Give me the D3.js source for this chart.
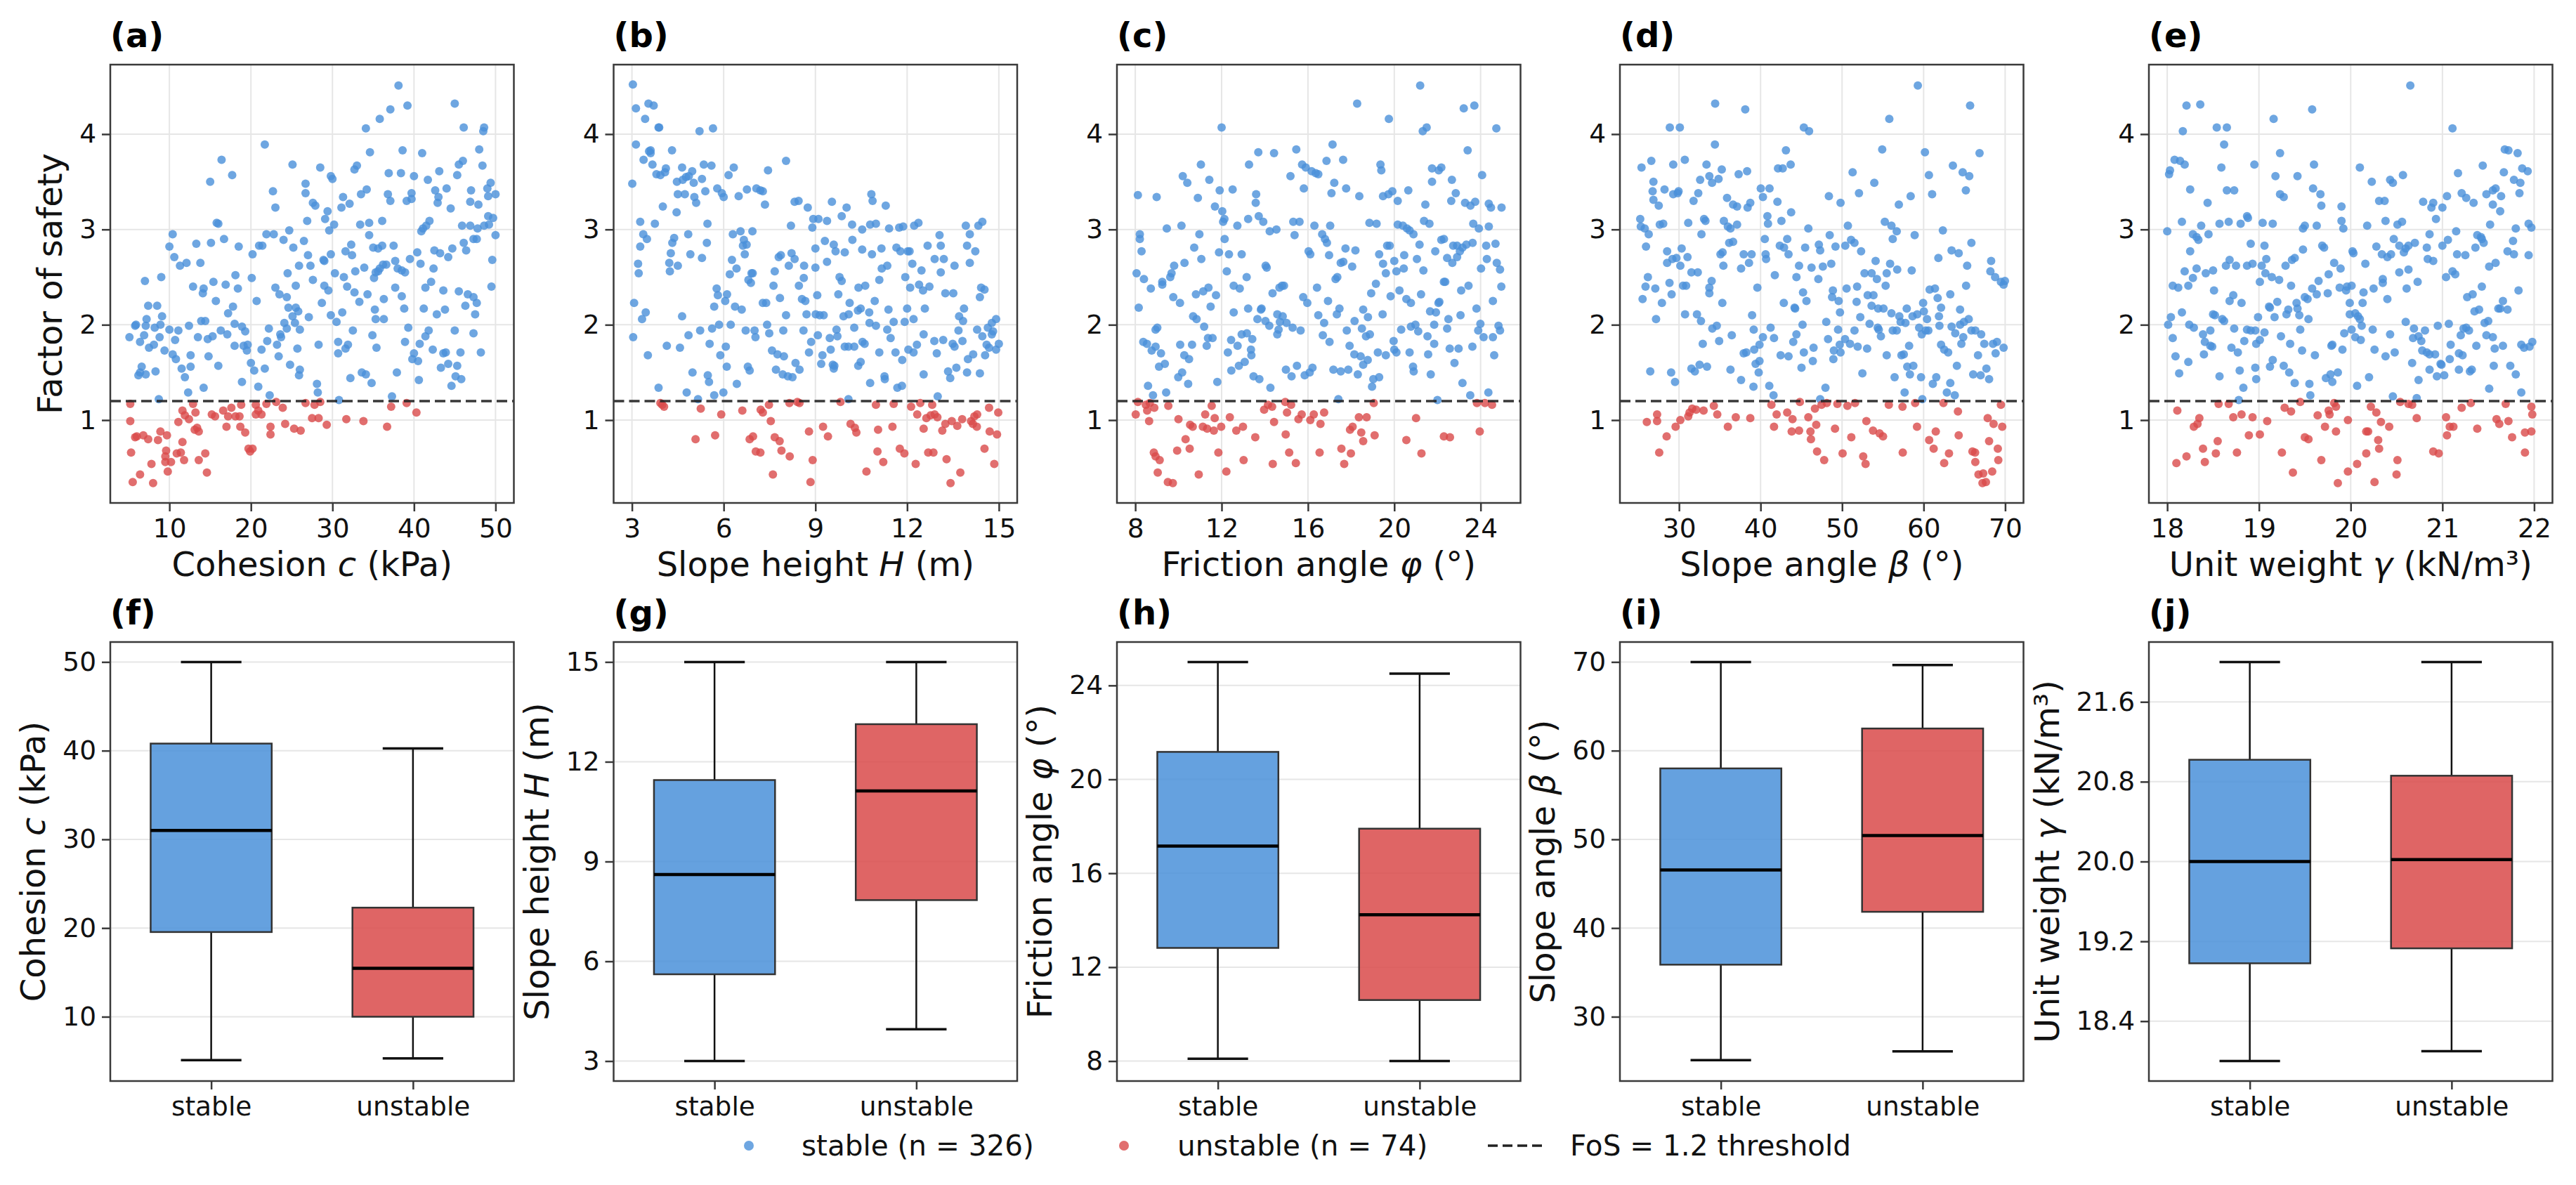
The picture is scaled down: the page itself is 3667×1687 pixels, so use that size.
<!DOCTYPE html>
<html><head><meta charset="utf-8">
<script src="https://cdn.jsdelivr.net/npm/d3@7"></script>
<style>body{margin:0;background:#fff} svg{display:block}</style>
</head><body><svg id="chart" width="3667" height="1687"></svg>
<script>
// ---------------- DATA ----------------
const fosTicks = [1, 2, 3, 4];
const threshold = 1.2;
const nStable = 326, nUnstable = 74;
const categories = ["stable", "unstable"];

const cohesionRange = [5, 50], heightRange = [3, 15], frictionRange = [8, 25], slopeRange = [25, 70], weightRange = [18, 22];
const cohesionTicks = [10, 20, 30, 40, 50], heightTicks = [3, 6, 9, 12, 15], frictionTicks = [8, 12, 16, 20, 24], slopeTicks = [30, 40, 50, 60, 70], weightTicks = [18, 19, 20, 21, 22];
const cohesionBoxTicks = [10, 20, 30, 40, 50], heightBoxTicks = [3, 6, 9, 12, 15], frictionBoxTicks = [8, 12, 16, 20, 24], slopeBoxTicks = [30, 40, 50, 60, 70], weightBoxTicks = [18.4, 19.2, 20.0, 20.8, 21.6];

// box stats: [lower whisker, Q1, median, Q3, upper whisker]
const cohesionBoxStable = [5.1, 19.55, 31.0, 40.8, 50.0], cohesionBoxUnstable = [5.3, 10.0, 15.47, 22.3, 40.25];
const heightBoxStable = [3.0, 5.61, 8.61, 11.45, 15.0], heightBoxUnstable = [3.96, 7.84, 11.12, 13.13, 15.0];
const frictionBoxStable = [8.1, 12.82, 17.16, 21.17, 25.0], frictionBoxUnstable = [8.0, 10.6, 14.23, 17.9, 24.5];
const slopeBoxStable = [25.1, 35.87, 46.55, 58.0, 70.0], slopeBoxUnstable = [26.1, 41.83, 50.43, 62.5, 69.66];
const weightBoxStable = [18.0, 18.98, 20.0, 21.02, 22.0], weightBoxUnstable = [18.1, 19.13, 20.02, 20.86, 22.0];

// scatter points: [variable value, factor of safety]
const cohesionStable = [[38.1,4.51],[45.0,4.32],[39.2,4.30],[37.1,4.26],[35.8,4.16],[34.1,4.06],[46.1,4.07],[48.6,4.07],[48.5,4.03],[21.7,3.89],[34.6,3.81],[38.6,3.83],[41.0,3.80],[48.0,3.84],[16.4,3.73],[25.1,3.68],[28.5,3.65],[32.7,3.63],[33.0,3.67],[46.0,3.72],[45.5,3.68],[48.4,3.67],[17.7,3.57],[36.9,3.59],[38.4,3.59],[40.0,3.56],[43.1,3.61],[45.3,3.57],[29.8,3.56],[30.0,3.53],[41.7,3.52],[15.0,3.50],[26.7,3.48],[26.7,3.38],[22.7,3.40],[34.2,3.42],[33.5,3.37],[36.8,3.37],[37.1,3.30],[39.7,3.38],[39.7,3.32],[39.1,3.30],[42.6,3.41],[43.0,3.34],[42.9,3.28],[44.0,3.43],[44.5,3.22],[47.0,3.41],[46.9,3.29],[47.9,3.26],[49.0,3.43],[49.4,3.49],[49.1,3.35],[50.0,3.37],[31.3,3.34],[32.1,3.27],[31.1,3.23],[23.0,3.23],[27.6,3.28],[27.9,3.25],[29.4,3.19],[29.1,3.11],[26.9,3.09],[30.2,3.05],[29.6,2.99],[33.4,3.05],[34.5,3.07],[36.1,3.09],[34.5,2.94],[41.9,3.09],[41.5,3.04],[41.1,3.01],[40.9,2.98],[45.9,3.04],[46.9,3.04],[47.8,3.01],[48.6,3.04],[49.1,3.14],[49.7,3.12],[49.2,3.05],[50.0,2.94],[47.3,2.90],[47.7,2.90],[46.1,2.86],[46.4,2.78],[15.8,3.07],[16.0,3.06],[10.4,2.95],[10.0,2.82],[13.3,2.85],[15.1,2.86],[16.7,2.90],[18.5,2.82],[20.2,2.74],[21.0,2.83],[21.4,2.83],[21.9,2.95],[22.8,2.95],[24.0,2.89],[24.7,2.99],[25.2,2.81],[26.5,2.88],[27.0,2.73],[10.6,2.71],[11.3,2.62],[12.1,2.65],[13.8,2.65],[25.9,2.62],[27.3,2.62],[28.9,2.68],[29.0,2.67],[29.8,2.74],[31.6,2.77],[32.3,2.84],[32.4,2.73],[35.0,2.81],[35.6,2.80],[36.1,2.83],[37.5,2.83],[39.5,2.69],[40.4,2.76],[42.5,2.78],[43.2,2.75],[44.2,2.71],[44.7,2.80],[49.6,2.68],[40.8,2.64],[42.4,2.59],[37.7,2.67],[38.0,2.59],[38.5,2.57],[38.9,2.55],[36.2,2.63],[36.6,2.63],[35.8,2.59],[35.6,2.56],[33.9,2.60],[32.8,2.56],[35.1,2.49],[35.3,2.55],[30.3,2.54],[31.4,2.50],[24.5,2.54],[27.6,2.47],[20.1,2.49],[18.1,2.52],[7.0,2.46],[9.0,2.50],[12.9,2.40],[14.2,2.38],[14.1,2.33],[15.4,2.45],[16.9,2.42],[18.4,2.38],[23.0,2.39],[25.5,2.41],[29.0,2.41],[29.5,2.36],[31.8,2.40],[32.7,2.34],[33.3,2.24],[34.3,2.32],[37.7,2.39],[38.5,2.30],[42.1,2.45],[41.4,2.39],[43.6,2.36],[45.5,2.35],[46.6,2.32],[47.3,2.29],[47.7,2.23],[49.5,2.40],[46.3,2.20],[47.5,2.11],[43.8,2.16],[42.8,2.11],[41.2,2.17],[38.8,2.17],[36.3,2.27],[35.2,2.16],[35.3,2.06],[36.3,2.06],[28.7,2.23],[31.2,2.13],[29.8,2.10],[30.5,2.03],[23.5,2.32],[24.4,2.29],[24.6,2.18],[25.5,2.18],[25.8,2.14],[25.1,2.09],[27.1,2.08],[20.7,2.25],[17.8,2.19],[17.2,2.12],[15.7,2.25],[7.4,2.20],[8.5,2.20],[7.2,2.06],[9.1,2.09],[5.8,1.99],[5.9,2.00],[7.1,1.99],[8.2,1.97],[8.9,2.00],[5.1,1.87],[6.9,1.89],[6.4,1.82],[8.8,1.87],[10.0,1.95],[11.1,1.94],[10.7,1.84],[7.5,1.76],[8.1,1.79],[12.4,1.99],[13.9,2.04],[14.4,2.04],[13.5,1.87],[14.7,1.85],[15.3,1.88],[16.3,1.94],[17.1,1.90],[18.0,2.01],[18.9,1.98],[19.3,1.93],[18.0,1.78],[19.1,1.78],[19.6,1.79],[19.5,1.73],[22.2,1.96],[23.6,1.90],[23.7,1.87],[24.1,2.02],[24.4,1.96],[22.0,1.83],[23.2,1.79],[25.4,2.02],[26.0,1.95],[21.3,1.74],[23.4,1.67],[25.7,1.75],[28.3,1.79],[30.7,1.82],[30.7,1.70],[31.9,1.79],[31.6,1.75],[32.5,1.94],[34.9,1.89],[35.4,1.76],[38.9,1.82],[39.3,1.97],[40.7,1.80],[41.4,1.88],[41.8,1.94],[40.0,1.70],[39.8,1.64],[40.5,1.62],[42.3,1.74],[43.6,1.70],[43.9,1.71],[43.3,1.55],[44.2,1.59],[45.0,1.94],[45.7,1.71],[45.3,1.57],[47.3,1.91],[48.2,1.71],[45.1,1.46],[45.8,1.43],[44.6,1.36],[40.6,1.42],[37.9,1.50],[34.8,1.39],[33.6,1.50],[34.1,1.48],[32.2,1.44],[30.8,1.21],[37.3,1.25],[28.1,1.38],[28.2,1.29],[26.0,1.53],[25.9,1.47],[24.8,1.58],[21.7,1.54],[20.4,1.52],[20.0,1.60],[20.9,1.35],[22.3,1.26],[18.9,1.40],[16.0,1.57],[14.8,1.67],[14.2,1.34],[12.6,1.68],[12.6,1.56],[12.3,1.29],[11.9,1.45],[11.5,1.54],[10.8,1.64],[10.4,1.69],[9.4,1.73],[6.6,1.56],[6.2,1.47],[7.1,1.48],[6.4,1.50],[8.3,1.51],[8.7,1.22]];
const cohesionUnstable = [[5.2,1.17],[5.2,0.99],[6.0,0.83],[6.8,0.84],[5.8,0.82],[7.4,0.80],[8.6,0.79],[8.9,0.88],[9.7,0.84],[5.3,0.66],[6.4,0.43],[5.5,0.35],[8.0,0.34],[7.8,0.54],[9.6,0.68],[9.5,0.62],[9.5,0.56],[10.2,0.56],[9.8,0.46],[11.1,0.98],[11.6,1.10],[11.9,1.05],[12.4,1.01],[13.2,1.08],[12.9,1.17],[11.6,0.77],[10.9,0.65],[11.4,0.66],[11.8,0.58],[13.1,0.90],[13.4,0.92],[13.6,0.88],[13.6,0.58],[14.4,0.65],[14.6,0.45],[15.2,1.06],[15.6,1.04],[16.6,1.10],[17.2,1.04],[17.6,1.13],[18.1,1.04],[18.6,1.04],[18.8,1.16],[17.0,0.93],[18.7,0.93],[19.3,0.87],[19.7,0.70],[20.2,0.70],[19.9,0.67],[20.6,1.16],[20.9,1.10],[20.6,1.06],[21.3,1.06],[21.9,1.17],[22.4,0.93],[22.4,0.85],[23.1,1.19],[23.9,1.13],[24.2,0.96],[25.3,0.91],[26.1,0.89],[26.7,1.18],[27.8,1.16],[28.5,1.19],[27.5,1.02],[28.3,1.02],[29.3,0.95],[31.7,1.01],[33.8,0.99],[36.7,0.93],[37.2,1.14],[39.1,1.18],[40.3,1.08]];

const heightStable = [[3.03,4.52],[3.13,4.27],[3.54,4.32],[3.71,4.30],[3.43,4.16],[3.87,4.07],[3.89,4.07],[5.21,4.03],[5.65,4.06],[3.13,3.89],[3.61,3.83],[3.61,3.80],[3.56,3.82],[4.31,3.83],[3.38,3.73],[3.67,3.68],[4.11,3.64],[4.08,3.60],[3.80,3.58],[3.93,3.57],[4.64,3.65],[4.97,3.61],[4.86,3.56],[5.35,3.68],[5.60,3.67],[8.04,3.72],[7.45,3.62],[6.33,3.65],[6.16,3.57],[3.01,3.48],[4.47,3.50],[4.66,3.52],[4.77,3.55],[5.02,3.49],[5.29,3.53],[4.50,3.37],[4.73,3.37],[5.04,3.34],[5.10,3.28],[5.40,3.40],[5.79,3.43],[5.94,3.38],[6.00,3.34],[6.49,3.35],[6.76,3.42],[7.07,3.43],[7.20,3.41],[7.28,3.40],[7.35,3.26],[4.01,3.24],[4.46,3.18],[8.32,3.29],[8.45,3.30],[8.75,3.23],[9.54,3.29],[10.02,3.23],[9.86,3.14],[10.83,3.37],[10.87,3.30],[11.3,3.25],[3.27,3.08],[3.75,3.06],[5.47,3.06],[8.20,3.04],[8.93,3.11],[9.10,3.11],[9.38,3.09],[8.90,3.02],[10.2,3.05],[10.53,3.00],[10.79,3.05],[10.98,3.06],[11.41,3.01],[11.74,3.02],[11.87,3.03],[12.23,3.04],[12.37,3.07],[13.06,2.94],[13.92,3.04],[14.05,2.95],[14.33,3.04],[14.46,3.08],[3.37,2.95],[3.49,2.90],[3.27,2.82],[4.38,2.91],[4.32,2.86],[4.84,2.95],[5.45,2.86],[4.27,2.75],[4.22,2.65],[4.24,2.56],[4.91,2.74],[4.50,2.62],[5.29,2.70],[3.20,2.64],[3.22,2.54],[6.30,2.95],[6.55,2.98],[6.66,2.89],[6.63,2.83],[6.75,2.84],[6.69,2.74],[6.94,2.98],[6.27,2.68],[6.42,2.59],[6.20,2.53],[6.91,2.54],[6.95,2.54],[6.81,2.47],[6.89,2.44],[7.67,2.56],[7.80,2.71],[7.87,2.73],[8.22,2.75],[8.32,2.69],[8.13,2.62],[8.63,2.62],[8.62,2.49],[8.46,2.41],[7.63,2.41],[7.84,2.28],[7.28,2.23],[7.39,2.23],[8.56,2.27],[8.67,2.25],[9.0,2.80],[9.0,2.60],[9.31,2.88],[9.38,2.66],[9.60,2.84],[9.66,2.77],[9.96,2.76],[10.21,2.89],[10.53,2.79],[10.85,2.74],[11.16,2.80],[11.17,2.59],[11.35,2.62],[11.09,2.47],[11.65,2.81],[11.78,2.77],[12.02,2.77],[12.08,2.77],[12.17,2.64],[12.67,2.83],[12.47,2.57],[11.94,2.50],[12.10,2.39],[12.39,2.42],[12.52,2.36],[12.73,2.40],[13.1,2.83],[13.2,2.69],[12.9,2.69],[13.1,2.55],[13.55,2.62],[13.25,2.33],[13.51,2.33],[13.96,2.83],[14.23,2.77],[14.05,2.65],[14.42,2.39],[14.53,2.37],[14.38,2.29],[9.79,2.50],[9.86,2.46],[9.75,2.32],[10.41,2.39],[10.63,2.41],[10.12,2.23],[10.39,2.15],[10.48,2.17],[10.76,2.13],[10.94,2.25],[9.06,2.31],[9.01,2.11],[9.14,2.10],[9.27,2.10],[8.71,2.11],[8.61,1.94],[8.04,2.10],[7.95,1.94],[7.42,2.00],[7.49,1.91],[7.01,1.94],[7.04,1.87],[6.72,1.94],[6.37,2.19],[6.59,2.16],[6.05,2.25],[6.11,2.32],[5.77,2.38],[5.81,2.31],[5.69,2.19],[6.23,2.00],[5.85,2.00],[5.62,1.96],[5.23,1.94],[4.85,1.89],[4.64,2.09],[3.07,2.23],[3.45,2.13],[3.33,2.06],[3.04,1.87],[3.52,1.68],[4.14,1.78],[4.57,1.76],[5.54,1.80],[6.07,1.77],[5.89,1.68],[6.10,1.56],[4.98,1.50],[5.48,1.47],[5.52,1.40],[3.87,1.34],[4.79,1.29],[5.16,1.22],[5.69,1.26],[5.99,1.29],[6.43,1.38],[6.79,1.56],[6.85,1.52],[7.58,1.73],[7.76,1.69],[7.97,1.67],[7.71,1.53],[7.93,1.48],[8.10,1.46],[8.25,1.45],[8.35,1.60],[8.48,1.53],[8.79,1.71],[8.86,1.82],[9.08,1.89],[9.19,1.59],[9.23,1.68],[9.47,1.86],[9.50,1.74],[9.57,1.58],[9.60,1.54],[9.62,1.57],[9.69,1.95],[9.72,1.88],[9.92,2.09],[10.09,2.11],[9.96,1.77],[10.08,1.77],[10.27,1.77],[10.27,1.97],[10.40,1.57],[10.48,1.61],[10.54,1.82],[10.61,1.80],[10.77,2.02],[10.98,1.99],[10.79,1.39],[11.09,1.71],[11.26,1.46],[11.27,1.43],[11.35,1.95],[11.46,1.86],[11.56,2.03],[11.39,2.16],[11.62,1.71],[11.84,1.63],[11.68,1.34],[11.83,1.36],[11.92,2.03],[12.0,2.17],[12.21,2.06],[12.04,1.74],[12.21,1.71],[12.32,1.79],[12.54,1.90],[12.58,2.17],[12.54,1.48],[12.89,1.83],[12.97,1.70],[13.18,1.84],[13.0,1.25],[13.34,1.51],[13.41,1.44],[13.49,1.80],[13.55,1.77],[13.68,1.94],[13.61,1.55],[13.70,2.09],[13.83,2.04],[13.86,2.17],[13.81,1.83],[13.96,1.50],[13.99,1.64],[14.16,1.69],[14.29,1.95],[14.46,1.88],[14.38,1.49],[14.55,1.68],[14.6,1.79],[14.64,1.97],[14.77,2.02],[14.81,1.93],[14.91,2.06],[14.68,1.76],[14.91,1.74],[15.0,1.80],[14.77,1.90],[10.08,1.22]];
const heightUnstable = [[3.99,1.16],[4.05,1.14],[3.93,1.18],[5.25,1.12],[5.08,0.80],[5.72,0.84],[5.92,1.06],[6.61,1.10],[7.21,1.11],[7.28,1.08],[7.48,1.16],[7.54,0.99],[6.85,0.80],[6.96,0.83],[7.05,0.67],[7.20,0.66],[7.67,0.82],[7.83,0.78],[7.89,0.68],[8.16,0.62],[7.61,0.43],[8.15,1.18],[8.41,1.19],[8.48,1.18],[8.79,0.88],[8.91,0.58],[8.84,0.35],[9.25,0.93],[9.41,0.83],[9.82,1.19],[10.15,0.96],[10.29,0.92],[10.34,0.87],[10.67,0.46],[10.98,1.16],[11.05,0.90],[11.03,0.67],[11.22,0.56],[11.52,0.93],[11.56,1.17],[11.76,0.70],[11.91,0.65],[12.13,1.14],[12.33,1.06],[12.43,1.18],[12.28,0.54],[12.54,0.91],[12.63,1.02],[12.77,1.05],[12.82,1.16],[12.99,1.03],[12.9,1.06],[12.69,0.66],[12.86,0.66],[13.15,0.89],[13.25,0.96],[13.29,0.59],[13.42,0.34],[13.46,0.99],[13.64,0.94],[13.80,1.01],[13.74,0.45],[14.09,0.99],[14.2,1.04],[14.29,1.06],[14.28,0.93],[14.15,0.96],[14.53,0.70],[14.68,1.13],[14.70,0.88],[14.94,0.85],[14.98,1.08],[14.85,0.54]];

const frictionStable = [[21.2,4.51],[18.28,4.32],[23.22,4.27],[23.71,4.30],[19.75,4.16],[21.32,4.03],[21.50,4.07],[12.0,4.07],[24.73,4.06],[17.14,3.89],[13.7,3.81],[14.43,3.80],[15.46,3.84],[23.40,3.83],[11.04,3.68],[13.27,3.68],[15.73,3.68],[15.9,3.65],[16.17,3.61],[16.36,3.59],[16.48,3.58],[16.86,3.72],[17.63,3.73],[19.36,3.68],[19.4,3.62],[21.75,3.64],[22.18,3.65],[22.06,3.62],[24.07,3.57],[10.2,3.56],[10.41,3.49],[11.43,3.52],[15.19,3.56],[17.22,3.49],[15.81,3.43],[17.77,3.43],[17.09,3.38],[8.12,3.36],[8.99,3.34],[10.9,3.33],[11.91,3.41],[12.51,3.42],[13.6,3.37],[13.58,3.28],[18.38,3.35],[19.48,3.35],[19.73,3.37],[19.91,3.40],[20.16,3.30],[20.65,3.41],[21.44,3.26],[21.75,3.50],[22.67,3.52],[22.85,3.38],[22.64,3.30],[23.28,3.28],[23.53,3.25],[23.75,3.29],[24.38,3.27],[24.48,3.23],[24.97,3.23],[11.69,3.24],[12.03,3.19],[12.13,3.11],[12.07,3.08],[13.72,3.14],[13.93,3.08],[13.23,3.11],[12.73,3.04],[9.46,3.01],[10.14,3.04],[8.21,2.95],[8.21,2.90],[8.29,2.77],[10.97,2.95],[12.14,2.90],[10.73,2.81],[11.06,2.69],[11.88,2.76],[12.34,2.74],[12.93,2.74],[14.23,2.98],[14.54,3.00],[15.32,3.08],[15.61,3.08],[15.38,2.94],[16.30,3.04],[16.66,2.95],[16.79,2.90],[16.88,2.86],[17.03,3.04],[16.03,2.77],[16.11,2.74],[16.98,2.73],[17.74,2.80],[18.2,2.78],[17.52,2.65],[17.64,2.66],[18.05,2.61],[18.85,3.07],[19.18,3.06],[19.30,2.74],[19.48,2.64],[19.61,2.54],[19.67,2.83],[19.79,2.83],[20.0,2.67],[20.1,2.56],[20.44,2.59],[20.46,2.73],[20.16,3.05],[20.4,3.04],[20.59,3.01],[20.71,2.99],[20.89,2.95],[21.17,2.84],[21.05,2.69],[21.35,2.57],[21.38,3.09],[21.63,3.06],[21.9,2.77],[22.18,2.89],[22.3,2.90],[22.45,2.70],[22.69,2.65],[22.73,2.83],[22.91,2.83],[23.16,2.81],[23.34,2.84],[23.63,2.86],[23.04,2.77],[22.91,2.71],[23.66,3.06],[23.92,3.01],[24.38,3.03],[24.26,2.83],[24.69,2.85],[24.29,2.69],[24.75,2.65],[24.9,2.58],[24.02,2.59],[24.96,2.40],[24.57,2.25],[23.81,2.17],[23.44,2.41],[23.1,2.36],[22.3,2.45],[22.36,2.45],[22.09,2.24],[22.05,2.23],[21.66,2.14],[21.93,2.13],[21.24,2.32],[20.56,2.27],[20.77,2.23],[20.24,2.36],[19.83,2.30],[19.46,2.11],[18.93,2.33],[19.15,2.43],[18.56,2.16],[18.78,2.08],[18.16,2.04],[18.5,1.96],[18.69,1.88],[18.87,1.90],[17.80,1.94],[17.93,1.78],[17.46,2.17],[17.34,2.11],[17.28,2.48],[17.36,2.50],[16.93,2.25],[16.42,2.39],[16.48,2.10],[16.75,2.02],[16.69,1.89],[17.0,1.82],[15.78,2.29],[15.97,2.23],[15.66,1.94],[15.29,1.97],[15.01,2.02],[14.83,2.09],[14.58,2.11],[14.70,2.03],[14.64,1.95],[14.58,1.90],[14.80,2.41],[14.89,2.41],[14.68,2.39],[14.36,2.33],[14.04,2.62],[14.09,2.60],[13.85,2.17],[13.82,2.16],[13.66,2.06],[14.03,2.04],[14.21,1.99],[13.23,2.17],[13.16,2.50],[12.84,2.38],[12.56,2.41],[12.56,2.13],[12.24,2.56],[11.74,2.31],[11.49,2.19],[11.39,2.39],[11.15,2.35],[10.81,2.32],[10.68,2.09],[10.84,2.06],[11.19,1.98],[11.58,1.86],[11.37,1.86],[11.31,1.78],[10.28,2.65],[9.80,2.62],[9.68,2.54],[9.62,2.50],[9.25,2.45],[9.25,2.42],[9.76,2.29],[10.07,2.23],[8.06,2.54],[8.40,2.48],[8.72,2.38],[8.16,2.18],[8.94,1.95],[9.02,1.97],[8.37,1.82],[8.54,1.80],[8.76,1.73],[8.94,1.77],[9.19,1.70],[9.10,1.56],[9.37,1.59],[10.08,1.79],[10.27,1.68],[10.49,1.64],[10.63,1.79],[9.99,1.45],[10.17,1.50],[10.45,1.38],[8.59,1.36],[8.82,1.26],[9.43,1.29],[11.80,1.40],[12.29,1.71],[12.44,1.84],[12.74,1.78],[12.93,1.90],[13.17,1.91],[13.42,1.85],[13.36,1.74],[13.38,1.68],[13.07,1.61],[12.8,1.57],[12.45,1.52],[13.48,1.46],[13.75,1.43],[14.26,1.34],[14.98,1.53],[15.24,1.46],[15.49,1.57],[15.85,1.47],[16.08,1.50],[16.21,1.55],[17.18,1.53],[17.52,1.51],[17.87,1.53],[18.31,1.48],[18.15,1.69],[18.44,1.67],[18.56,1.58],[18.77,1.63],[19.24,1.71],[19.61,1.68],[19.03,1.43],[19.30,1.45],[18.97,1.35],[19.97,1.83],[20.0,1.74],[20.1,1.71],[20.32,1.95],[20.71,1.71],[20.87,1.56],[20.90,1.51],[20.77,1.98],[20.98,2.00],[21.11,1.93],[21.54,1.88],[21.85,1.80],[21.57,1.69],[21.69,1.48],[21.85,2.00],[22.0,1.21],[22.45,1.96],[22.51,2.06],[22.57,1.75],[22.98,1.75],[22.79,1.60],[23.07,2.10],[23.16,1.39],[23.52,1.26],[23.62,1.77],[23.89,1.94],[23.99,2.01],[24.14,1.87],[24.57,1.87],[24.63,1.68],[24.83,1.99],[24.9,1.94],[24.36,1.29],[17.41,1.22]];
const frictionUnstable = [[8.12,1.19],[8.49,1.16],[8.67,1.18],[8.88,1.13],[8.55,1.10],[8.02,1.06],[8.64,0.99],[9.53,1.15],[10.0,1.01],[8.86,0.66],[8.94,0.62],[9.13,0.58],[9.04,0.45],[9.51,0.35],[9.74,0.34],[9.94,0.68],[10.33,0.80],[10.52,0.70],[10.54,0.95],[10.66,0.93],[10.94,0.43],[11.13,0.93],[11.33,0.91],[11.64,0.89],[11.98,0.93],[11.24,1.06],[11.54,1.15],[11.68,1.02],[11.85,0.66],[12.22,0.46],[12.38,1.03],[12.68,0.89],[12.99,0.93],[13.02,0.58],[13.56,0.82],[13.97,1.11],[14.15,1.16],[14.34,1.14],[14.43,0.98],[14.37,0.54],[14.95,1.19],[15.22,1.16],[15.03,1.08],[14.97,0.85],[15.13,0.66],[15.44,0.55],[15.56,1.01],[15.71,1.06],[16.11,1.00],[16.27,1.06],[16.58,0.96],[16.75,1.08],[16.54,0.66],[17.55,0.70],[17.68,0.54],[17.99,0.65],[17.95,0.90],[18.07,0.93],[18.36,1.03],[18.72,1.03],[18.47,0.87],[18.56,0.78],[19.05,1.18],[19.09,0.84],[20.56,0.79],[21.01,1.02],[21.26,0.65],[22.3,0.83],[22.58,0.82],[23.83,1.18],[24.20,1.18],[24.53,1.16],[23.96,0.88]];

const slopeStable = [[59.29,4.51],[34.43,4.32],[38.12,4.26],[55.79,4.16],[28.87,4.07],[30.1,4.07],[45.31,4.07],[45.95,4.03],[65.70,4.30],[34.40,3.89],[54.92,3.84],[60.16,3.81],[66.86,3.80],[43.11,3.83],[25.40,3.65],[26.60,3.72],[29.29,3.68],[30.71,3.73],[33.37,3.68],[35.24,3.63],[33.72,3.56],[34.05,3.49],[34.85,3.53],[32.59,3.52],[26.86,3.50],[26.76,3.40],[26.86,3.31],[27.51,3.25],[28.22,3.42],[29.29,3.37],[29.84,3.38],[29.94,3.40],[32.36,3.38],[31.78,3.30],[37.31,3.58],[38.35,3.61],[35.89,3.33],[36.63,3.26],[37.12,3.24],[38.41,3.23],[38.74,3.28],[40.03,3.43],[41.10,3.43],[40.29,3.34],[42.14,3.64],[42.72,3.64],[43.69,3.68],[42.07,3.29],[43.75,3.18],[40.84,3.14],[40.91,3.06],[42.56,3.09],[51.29,3.60],[53.95,3.49],[52.07,3.38],[48.38,3.35],[49.81,3.28],[56.96,3.26],[58.41,3.35],[60.65,3.57],[61.04,3.37],[63.59,3.67],[64.79,3.60],[65.60,3.56],[65.18,3.41],[25.24,3.11],[25.31,3.03],[25.79,3.01],[26.28,2.95],[25.95,2.82],[27.64,3.05],[28.06,3.06],[31.13,3.07],[33.07,3.11],[33.24,3.09],[32.75,2.95],[35.50,3.09],[35.99,3.03],[36.31,3.01],[37.12,3.05],[36.15,2.86],[36.63,2.87],[35.34,2.76],[35.08,2.74],[28.54,2.77],[30.32,2.80],[31.04,2.71],[28.54,2.65],[29.19,2.69],[29.68,2.70],[30.16,2.62],[26.18,2.50],[25.89,2.40],[27.09,2.38],[25.53,2.27],[27.90,2.23],[27.18,2.06],[28.83,2.44],[29.09,2.32],[30.49,2.41],[30.87,2.41],[31.52,2.55],[32.30,2.55],[30.74,2.11],[32.20,2.11],[32.69,2.04],[33.72,2.39],[34.0,2.46],[33.72,2.33],[35.31,2.23],[34.08,1.96],[34.63,1.99],[32.91,1.80],[34.92,1.83],[35.44,2.62],[37.61,2.59],[37.93,2.74],[38.90,2.74],[38.58,2.65],[36.47,1.89],[38.96,2.10],[39.16,1.95],[39.61,2.39],[40.52,2.90],[40.62,2.74],[40.68,2.69],[41.75,2.52],[41.23,1.97],[40.29,1.87],[39.87,1.79],[39.22,1.74],[41.65,1.86],[42.36,2.83],[42.88,2.81],[43.27,2.90],[43.43,2.74],[42.85,2.23],[44.17,2.18],[44.24,2.17],[44.40,2.50],[44.72,2.62],[45.21,2.34],[45.63,2.25],[45.47,2.81],[45.86,3.01],[46.25,2.60],[47.09,2.48],[47.15,2.84],[47.31,2.78],[47.64,2.61],[48.67,2.64],[48.48,2.94],[49.19,2.82],[50.39,2.83],[51.1,2.89],[51.52,2.86],[52.33,2.77],[50.71,3.04],[48.87,2.36],[48.77,2.29],[49.58,2.25],[50.55,2.38],[51.84,2.40],[49.74,2.13],[51.78,2.24],[52.23,2.08],[51.52,1.94],[52.75,2.54],[53.62,2.54],[54.11,2.67],[54.27,2.48],[53.14,2.31],[53.85,2.31],[53.62,2.20],[54.43,2.17],[55.08,2.17],[53.37,2.01],[54.37,1.97],[54.50,1.95],[54.76,1.88],[55.34,2.41],[55.47,2.54],[55.89,2.64],[56.76,2.58],[55.24,3.08],[56.05,3.04],[56.70,2.98],[56.21,2.90],[58.90,2.94],[58.54,2.57],[56.05,2.12],[57.02,2.09],[57.93,2.17],[56.21,1.94],[56.70,1.94],[57.18,2.03],[57.77,2.02],[58.64,2.09],[59.22,2.11],[59.94,2.23],[60.03,2.14],[60.42,2.06],[59.45,1.97],[59.77,1.90],[60.26,1.94],[60.58,1.94],[60.74,2.37],[61.39,2.38],[61.72,2.28],[62.14,2.18],[61.88,2.09],[61.94,1.99],[61.81,2.70],[62.36,2.99],[63.27,2.32],[63.43,2.78],[64.30,2.75],[65.34,2.62],[65.86,2.86],[65.21,2.41],[64.47,2.16],[63.43,1.98],[63.88,1.91],[64.47,2.00],[64.95,2.03],[65.53,2.06],[65.86,1.94],[66.34,1.94],[67.06,1.90],[64.86,1.87],[64.63,1.80],[68.28,2.67],[68.19,2.56],[68.77,2.50],[69.48,2.45],[69.81,2.42],[69.97,2.46],[67.44,1.80],[68.51,1.80],[69.0,1.82],[68.83,1.70],[69.81,1.76],[66.67,1.68],[66.08,1.48],[66.99,1.47],[67.70,1.54],[68.03,1.43],[64.08,1.57],[62.14,1.79],[62.52,1.74],[63.01,1.71],[63.27,1.39],[62.85,1.29],[63.82,1.26],[61.13,1.38],[61.55,1.45],[59.68,1.45],[59.84,1.22],[58.22,1.78],[57.99,1.56],[58.74,1.57],[58.32,1.48],[57.28,1.68],[57.57,1.69],[56.44,1.45],[57.67,1.29],[55.47,1.68],[52.49,1.49],[53.07,1.75],[51.91,1.77],[50.97,1.80],[49.81,1.71],[49.71,1.79],[50.36,1.85],[48.93,1.64],[48.99,1.73],[48.28,1.85],[48.06,2.03],[49.51,1.95],[46.50,1.76],[46.41,1.62],[45.31,1.71],[45.02,1.55],[44.40,1.90],[44.01,1.82],[45.15,2.00],[42.46,1.68],[43.43,1.67],[47.96,1.34],[47.31,1.22],[41.59,1.26],[41.07,1.36],[39.77,1.50],[39.39,1.59],[39.87,1.62],[39.13,1.35],[37.61,1.42],[37.93,1.70],[38.25,1.71],[36.31,1.53],[33.43,1.56],[32.52,1.58],[31.52,1.54],[31.94,1.51],[26.47,1.51],[29.03,1.50],[29.51,1.40]];
const slopeUnstable = [[26.05,0.98],[27.31,1.06],[27.31,0.99],[28.48,0.83],[27.57,0.66],[29.58,0.93],[30.16,1.00],[31.13,1.04],[31.29,1.08],[31.62,1.12],[32.1,1.11],[33.01,1.10],[34.27,1.15],[34.69,1.06],[35.99,0.93],[36.96,1.03],[38.74,1.02],[41.33,1.16],[41.97,1.06],[41.65,0.93],[43.27,1.08],[43.92,1.01],[43.82,0.88],[44.72,0.89],[44.82,1.19],[45.86,1.03],[46.83,0.95],[46.67,1.12],[47.48,1.16],[48.12,1.18],[46.12,0.88],[46.18,0.80],[46.93,0.67],[47.80,0.58],[49.13,0.91],[49.42,1.17],[50.65,1.15],[51.59,1.18],[51.13,0.82],[50.06,0.65],[52.59,0.62],[52.88,0.54],[52.98,0.99],[53.79,0.89],[54.60,0.86],[55.02,0.83],[55.73,1.16],[57.41,1.14],[58.96,1.18],[57.44,0.66],[59.19,0.93],[60.68,0.79],[61.23,0.70],[61.49,0.88],[62.43,1.18],[63.11,0.65],[62.52,0.55],[64.21,1.09],[64.30,0.84],[65.99,0.67],[66.31,0.66],[66.34,0.56],[66.73,0.43],[67.31,0.44],[67.22,0.34],[67.64,0.35],[68.41,0.46],[67.86,1.02],[68.58,0.96],[68.03,0.78],[69.10,0.70],[69.16,0.58],[69.48,1.16],[69.64,0.93]];

const weightStable = [[20.65,4.51],[18.21,4.30],[18.36,4.31],[19.58,4.26],[19.16,4.16],[18.17,4.03],[18.54,4.07],[18.65,4.07],[21.11,4.06],[18.62,3.89],[19.23,3.80],[21.68,3.84],[21.72,3.83],[21.82,3.80],[18.02,3.58],[18.03,3.62],[18.08,3.73],[18.14,3.72],[18.19,3.68],[18.59,3.65],[18.95,3.68],[19.60,3.68],[19.42,3.56],[19.18,3.56],[20.10,3.65],[20.57,3.57],[21.17,3.59],[21.44,3.67],[21.67,3.60],[21.87,3.64],[21.93,3.61],[20.23,3.50],[20.43,3.52],[20.46,3.49],[21.78,3.52],[21.85,3.49],[18.25,3.42],[18.65,3.41],[18.73,3.41],[18.44,3.28],[19.23,3.37],[19.27,3.34],[19.59,3.43],[19.67,3.37],[19.68,3.25],[19.90,3.24],[21.05,3.35],[21.21,3.38],[21.26,3.33],[21.34,3.28],[21.48,3.37],[21.55,3.41],[21.58,3.43],[21.64,3.35],[21.84,3.38],[20.79,3.29],[20.88,3.23],[20.90,3.28],[21.0,3.23],[21.55,3.26],[21.63,3.19],[20.31,3.30],[20.37,3.30],[18.0,2.98],[18.16,3.08],[18.37,3.04],[18.45,2.95],[18.57,3.06],[18.67,3.08],[18.80,3.06],[18.87,3.14],[18.88,3.12],[19.04,3.07],[19.15,3.06],[19.48,3.01],[19.50,3.04],[19.63,3.04],[19.90,3.09],[19.92,3.01],[20.18,3.04],[20.38,3.09],[20.51,3.05],[20.56,3.08],[20.93,3.11],[21.15,2.98],[21.52,3.05],[21.80,3.01],[21.94,3.06],[21.97,3.02],[18.28,2.95],[18.32,2.92],[18.34,2.89],[18.25,2.77],[18.19,2.56],[18.32,2.59],[18.28,2.49],[18.23,2.41],[18.06,2.41],[18.12,2.39],[18.42,2.54],[18.50,2.57],[18.51,2.36],[18.64,2.62],[18.68,2.68],[18.75,2.62],[18.72,2.31],[18.68,2.25],[18.81,2.23],[18.91,2.85],[18.87,2.62],[18.93,2.64],[19.06,2.83],[19.08,2.69],[19.03,2.62],[19.01,2.45],[19.07,2.54],[19.14,2.50],[19.22,2.47],[19.29,2.62],[19.36,2.68],[19.39,2.70],[19.48,2.79],[19.35,2.41],[19.20,2.24],[19.11,2.19],[19.12,2.18],[19.17,2.08],[19.30,2.11],[19.32,2.16],[19.41,2.23],[19.42,2.17],[19.44,2.10],[19.50,2.29],[19.53,2.27],[19.58,2.38],[19.63,2.32],[19.65,2.46],[19.75,2.33],[19.76,2.53],[19.69,2.83],[19.71,2.81],[19.82,2.65],[19.89,2.59],[19.88,2.39],[19.96,2.40],[20.01,2.41],[19.95,2.36],[19.99,2.23],[19.99,2.11],[20.05,2.12],[20.08,2.09],[20.10,2.06],[20.12,1.99],[20.13,2.23],[20.14,2.34],[20.16,2.64],[20.02,2.77],[20.03,2.75],[20.25,2.38],[20.28,2.82],[20.34,2.74],[20.40,2.71],[20.44,2.74],[20.35,2.48],[20.35,2.44],[20.40,2.27],[20.47,2.90],[20.53,2.83],[20.58,2.76],[20.60,2.80],[20.63,2.83],[20.70,2.86],[20.53,2.55],[20.63,2.58],[20.61,2.38],[20.73,2.45],[20.60,2.03],[20.69,1.96],[20.68,1.86],[20.74,1.88],[20.77,1.83],[20.78,1.73],[20.83,1.71],[20.86,1.69],[20.92,1.69],[20.81,1.94],[20.83,2.81],[20.84,2.69],[20.90,2.67],[20.86,2.95],[21.0,2.83],[21.06,2.89],[21.04,2.50],[20.95,1.99],[21.07,2.01],[20.98,1.59],[20.99,1.58],[20.94,1.46],[21.02,1.47],[20.86,1.53],[21.08,1.64],[21.09,1.79],[21.11,2.56],[21.14,2.53],[21.16,2.74],[21.25,2.73],[21.20,1.89],[21.23,1.96],[21.26,1.97],[21.29,1.94],[21.18,1.70],[21.22,1.68],[21.18,1.53],[21.30,1.51],[21.32,1.53],[21.27,2.29],[21.33,2.32],[21.35,2.14],[21.40,2.16],[21.37,1.78],[21.36,2.81],[21.38,2.94],[21.42,2.92],[21.45,2.86],[21.43,2.90],[21.43,2.40],[21.46,2.02],[21.50,2.04],[21.48,1.89],[21.55,1.87],[21.51,2.61],[21.58,2.65],[21.57,1.75],[21.56,1.57],[21.51,1.33],[21.63,2.17],[21.66,2.25],[21.71,2.16],[21.61,2.17],[21.66,1.78],[21.71,2.77],[21.78,2.74],[21.77,2.88],[21.74,1.57],[21.80,1.48],[21.83,2.36],[21.86,1.29],[21.86,1.79],[21.89,1.76],[21.95,1.77],[21.98,1.82],[21.94,2.73],[18.01,2.00],[18.04,2.08],[18.06,1.86],[18.09,1.67],[18.16,2.13],[18.13,1.49],[18.23,1.61],[18.24,2.00],[18.29,1.97],[18.39,1.90],[18.41,1.82],[18.47,1.78],[18.49,1.77],[18.40,1.69],[18.47,1.94],[18.50,2.11],[18.52,2.10],[18.57,1.46],[18.60,2.06],[18.62,2.04],[18.70,1.76],[18.77,1.71],[18.73,1.96],[18.79,1.52],[18.83,1.34],[18.78,1.21],[18.84,1.83],[18.87,1.95],[18.91,1.94],[18.96,1.94],[18.97,1.80],[19.01,1.84],[19.06,1.92],[18.99,2.08],[18.96,1.55],[18.97,1.43],[19.12,1.56],[19.15,1.63],[19.24,1.88],[19.27,1.57],[19.33,1.50],[19.34,1.80],[19.39,1.39],[19.47,1.73],[19.45,1.95],[19.54,2.06],[19.55,1.38],[19.56,1.26],[19.61,1.68],[19.79,1.78],[19.80,1.79],[19.91,1.74],[19.73,1.44],[19.78,1.48],[19.80,1.40],[19.86,1.50],[19.93,1.91],[20.01,1.95],[20.05,1.87],[20.11,1.84],[20.07,1.36],[20.20,1.45],[20.24,1.95],[20.26,1.74],[20.38,1.67],[20.48,1.71],[20.43,1.90],[20.46,1.25],[20.67,1.60],[20.74,1.42],[20.72,1.23]];
const weightUnstable = [[18.11,1.10],[18.29,0.93],[18.33,0.96],[18.35,1.02],[18.10,0.55],[18.21,0.62],[18.39,0.70],[18.41,0.56],[18.53,0.65],[18.55,0.78],[18.56,1.17],[18.67,1.17],[18.72,1.03],[18.76,0.66],[18.81,1.06],[18.89,0.84],[18.93,1.03],[19.01,0.85],[19.09,0.99],[19.25,0.66],[19.28,1.13],[19.35,1.09],[19.37,0.45],[19.45,1.19],[19.50,0.82],[19.54,0.80],[19.64,1.05],[19.68,0.58],[19.72,0.93],[19.76,1.10],[19.77,1.06],[19.82,1.18],[19.84,1.14],[19.84,0.88],[19.86,0.34],[19.97,1.00],[19.97,0.46],[20.07,0.54],[20.17,0.88],[20.19,0.88],[20.17,0.65],[20.22,1.14],[20.28,1.08],[20.33,0.98],[20.42,0.93],[20.30,0.79],[20.31,0.70],[20.26,0.35],[20.51,0.58],[20.50,0.43],[20.54,1.19],[20.63,1.17],[20.67,1.16],[20.72,1.02],[20.90,0.67],[20.96,0.65],[21.04,1.03],[21.08,0.93],[21.12,0.93],[21.05,0.84],[21.21,1.13],[21.31,1.18],[21.38,0.91],[21.59,1.01],[21.62,0.96],[21.72,0.99],[21.69,1.17],[21.76,0.82],[21.90,0.66],[21.90,0.87],[21.97,0.88],[21.97,1.14],[21.98,1.06]];

// axis label pieces: [text, italic?]
const cohesionLabel = [["Cohesion ", false], ["c", true], [" (kPa)", false]];
const heightLabel = [["Slope height ", false], ["H", true], [" (m)", false]];
const frictionLabel = [["Friction angle ", false], ["φ", true], [" (°)", false]];
const slopeLabel = [["Slope angle ", false], ["β", true], [" (°)", false]];
const weightLabel = [["Unit weight ", false], ["γ", true], [" (kN/m³)", false]];

// ---------------- LAYOUT / STYLE ----------------
const FONT = '"DejaVu Sans", "Liberation Sans", sans-serif';
const BLUE = "#4A90D9", RED = "#D94A4A";
const TICK_FS = 37.5, LABEL_FS = 48, TITLE_FS = 48, LEGEND_FS = 40.5;
const PW = 574.5;
const lefts = [157, 873.5, 1590, 2306, 3059];
const TOP = [92, 716], BOT = [914, 1539];
const GRID = "#e6e6e6", SPINE = "#3a3a3a", TXT = "#111";

const vars = [
  {range: cohesionRange, ticks: cohesionTicks, boxTicks: cohesionBoxTicks, stable: cohesionStable, unstable: cohesionUnstable, box: [cohesionBoxStable, cohesionBoxUnstable], label: cohesionLabel, fmt: d3.format("d")},
  {range: heightRange, ticks: heightTicks, boxTicks: heightBoxTicks, stable: heightStable, unstable: heightUnstable, box: [heightBoxStable, heightBoxUnstable], label: heightLabel, fmt: d3.format("d")},
  {range: frictionRange, ticks: frictionTicks, boxTicks: frictionBoxTicks, stable: frictionStable, unstable: frictionUnstable, box: [frictionBoxStable, frictionBoxUnstable], label: frictionLabel, fmt: d3.format("d")},
  {range: slopeRange, ticks: slopeTicks, boxTicks: slopeBoxTicks, stable: slopeStable, unstable: slopeUnstable, box: [slopeBoxStable, slopeBoxUnstable], label: slopeLabel, fmt: d3.format("d")},
  {range: weightRange, ticks: weightTicks, boxTicks: weightBoxTicks, stable: weightStable, unstable: weightUnstable, box: [weightBoxStable, weightBoxUnstable], label: weightLabel, fmt: d3.format(".1f")}
];
const topTitles = ["(a)", "(b)", "(c)", "(d)", "(e)"];
const botTitles = ["(f)", "(g)", "(h)", "(i)", "(j)"];

const svg = d3.select("#chart");
svg.append("rect").attr("width", 3667).attr("height", 1687).attr("fill", "#fff");

// shared FoS scale with 5% margins (matplotlib-like)
const allFos = vars.flatMap(v => v.stable.concat(v.unstable).map(d => d[1]));
const fosExt = d3.extent(allFos);
const fosPad = (fosExt[1] - fosExt[0]) * 0.05;
const yFos = d3.scaleLinear().domain([fosExt[0] - fosPad, fosExt[1] + fosPad]).range([TOP[1], TOP[0]]);

function styleAxis(g) {
  g.select(".domain").remove();
  g.selectAll(".tick line").attr("stroke", SPINE).attr("stroke-width", 2.5);
  g.selectAll(".tick text").attr("font-family", FONT).attr("font-size", TICK_FS).attr("fill", TXT);
}
function addLabel(sel, pieces) {
  pieces.forEach(p => sel.append("tspan").attr("font-style", p[1] ? "italic" : "normal").text(p[0]));
}
function maxTickWidth(g) {
  let m = 0;
  g.selectAll(".tick text").each(function () { m = Math.max(m, this.getComputedTextLength()); });
  return m;
}

vars.forEach((v, i) => {
  const L = lefts[i];
  const span = v.range[1] - v.range[0];
  const dom = [v.range[0] - 0.05 * span, v.range[1] + 0.05 * span];

  // ---------- scatter panel ----------
  const x = d3.scaleLinear().domain(dom).range([L, L + PW]);
  const g = svg.append("g");
  g.append("g").selectAll("line").data(v.ticks).join("line")
    .attr("x1", d => x(d)).attr("x2", d => x(d)).attr("y1", TOP[0]).attr("y2", TOP[1])
    .attr("stroke", GRID).attr("stroke-width", 2);
  g.append("g").selectAll("line").data(fosTicks).join("line")
    .attr("x1", L).attr("x2", L + PW).attr("y1", d => yFos(d)).attr("y2", d => yFos(d))
    .attr("stroke", GRID).attr("stroke-width", 2);

  g.append("g").selectAll("circle").data(v.stable).join("circle")
    .attr("cx", d => x(d[0])).attr("cy", d => yFos(d[1])).attr("r", 6)
    .attr("fill", BLUE).attr("fill-opacity", 0.8);
  g.append("g").selectAll("circle").data(v.unstable).join("circle")
    .attr("cx", d => x(d[0])).attr("cy", d => yFos(d[1])).attr("r", 6)
    .attr("fill", RED).attr("fill-opacity", 0.8);

  g.append("line").attr("x1", L).attr("x2", L + PW).attr("y1", yFos(threshold)).attr("y2", yFos(threshold))
    .attr("stroke", "#222").attr("stroke-width", 3.5).attr("stroke-dasharray", "15,7").attr("stroke-opacity", 0.9);

  const ax = g.append("g").attr("transform", `translate(0,${TOP[1]})`)
    .call(d3.axisBottom(x).tickValues(v.ticks).tickFormat(d3.format("d")).tickSize(12).tickPadding(10));
  styleAxis(ax);
  const ay = g.append("g").attr("transform", `translate(${L},0)`)
    .call(d3.axisLeft(yFos).tickValues(fosTicks).tickFormat(d3.format("d")).tickSize(12).tickPadding(8));
  styleAxis(ay);

  g.append("rect").attr("x", L).attr("y", TOP[0]).attr("width", PW).attr("height", TOP[1] - TOP[0])
    .attr("fill", "none").attr("stroke", SPINE).attr("stroke-width", 2.5);

  addLabel(g.append("text").attr("x", L + PW / 2).attr("y", TOP[1] + 104).attr("text-anchor", "middle")
    .attr("font-family", FONT).attr("font-size", LABEL_FS).attr("fill", TXT), v.label);
  g.append("text").attr("x", L).attr("y", TOP[0] - 25).attr("font-family", FONT).attr("font-weight", "bold")
    .attr("font-size", TITLE_FS).attr("fill", "#000").text(topTitles[i]);

  if (i === 0) {
    const off = maxTickWidth(ay) + 45;
    g.append("text").attr("transform", `translate(${L - off},${(TOP[0] + TOP[1]) / 2}) rotate(-90)`)
      .attr("text-anchor", "middle").attr("font-family", FONT).attr("font-size", LABEL_FS).attr("fill", TXT)
      .text("Factor of safety");
  }

  // ---------- box panel ----------
  const yb = d3.scaleLinear().domain(dom).range([BOT[1], BOT[0]]);
  const xb = d3.scaleLinear().domain([0.5, 2.5]).range([L, L + PW]);
  const gb = svg.append("g");
  gb.append("g").selectAll("line").data(v.boxTicks).join("line")
    .attr("x1", L).attr("x2", L + PW).attr("y1", d => yb(d)).attr("y2", d => yb(d))
    .attr("stroke", GRID).attr("stroke-width", 2);

  const boxW = 0.6, capW = 0.3;
  v.box.forEach((s, k) => {
    const pos = k + 1;
    const col = k === 0 ? BLUE : RED;
    const bg = gb.append("g");
    bg.append("line").attr("x1", xb(pos)).attr("x2", xb(pos)).attr("y1", yb(s[0])).attr("y2", yb(s[1]))
      .attr("stroke", "#111").attr("stroke-width", 2.5);
    bg.append("line").attr("x1", xb(pos)).attr("x2", xb(pos)).attr("y1", yb(s[3])).attr("y2", yb(s[4]))
      .attr("stroke", "#111").attr("stroke-width", 2.5);
    [s[0], s[4]].forEach(c => bg.append("line").attr("x1", xb(pos - capW / 2)).attr("x2", xb(pos + capW / 2))
      .attr("y1", yb(c)).attr("y2", yb(c)).attr("stroke", "#111").attr("stroke-width", 3.5));
    bg.append("rect").attr("x", xb(pos - boxW / 2)).attr("y", yb(s[3]))
      .attr("width", xb(pos + boxW / 2) - xb(pos - boxW / 2)).attr("height", yb(s[1]) - yb(s[3]))
      .attr("fill", col).attr("fill-opacity", 0.85).attr("stroke", "#333").attr("stroke-width", 2.5);
    bg.append("line").attr("x1", xb(pos - boxW / 2)).attr("x2", xb(pos + boxW / 2)).attr("y1", yb(s[2])).attr("y2", yb(s[2]))
      .attr("stroke", "#000").attr("stroke-width", 4.5);
  });

  const bx = gb.append("g").attr("transform", `translate(0,${BOT[1]})`)
    .call(d3.axisBottom(xb).tickValues([1, 2]).tickFormat(d => categories[d - 1]).tickSize(12).tickPadding(10));
  styleAxis(bx);
  const by = gb.append("g").attr("transform", `translate(${L},0)`)
    .call(d3.axisLeft(yb).tickValues(v.boxTicks).tickFormat(v.fmt).tickSize(12).tickPadding(8));
  styleAxis(by);

  gb.append("rect").attr("x", L).attr("y", BOT[0]).attr("width", PW).attr("height", BOT[1] - BOT[0])
    .attr("fill", "none").attr("stroke", SPINE).attr("stroke-width", 2.5);
  gb.append("text").attr("x", L).attr("y", BOT[0] - 25).attr("font-family", FONT).attr("font-weight", "bold")
    .attr("font-size", TITLE_FS).attr("fill", "#000").text(botTitles[i]);
  const off = maxTickWidth(by) + 45;
  addLabel(gb.append("text").attr("transform", `translate(${L - off},${(BOT[0] + BOT[1]) / 2}) rotate(-90)`)
    .attr("text-anchor", "middle").attr("font-family", FONT).attr("font-size", LABEL_FS).attr("fill", TXT), v.label);
});

// ---------------- LEGEND ----------------
const legY = 1631;
const leg = svg.append("g").attr("font-family", FONT).attr("font-size", LEGEND_FS).attr("fill", TXT);
leg.append("circle").attr("cx", 1066).attr("cy", legY).attr("r", 7).attr("fill", BLUE).attr("fill-opacity", 0.8);
leg.append("text").attr("x", 1141).attr("y", legY).attr("dy", "0.35em").text(`stable (n = ${nStable})`);
leg.append("circle").attr("cx", 1600).attr("cy", legY).attr("r", 7).attr("fill", RED).attr("fill-opacity", 0.8);
leg.append("text").attr("x", 1676).attr("y", legY).attr("dy", "0.35em").text(`unstable (n = ${nUnstable})`);
leg.append("line").attr("x1", 2118).attr("x2", 2200).attr("y1", legY).attr("y2", legY)
  .attr("stroke", "#222").attr("stroke-width", 3.5).attr("stroke-dasharray", "14,7");
leg.append("text").attr("x", 2235).attr("y", legY).attr("dy", "0.35em").text(`FoS = ${threshold} threshold`);
</script>
</body></html>
